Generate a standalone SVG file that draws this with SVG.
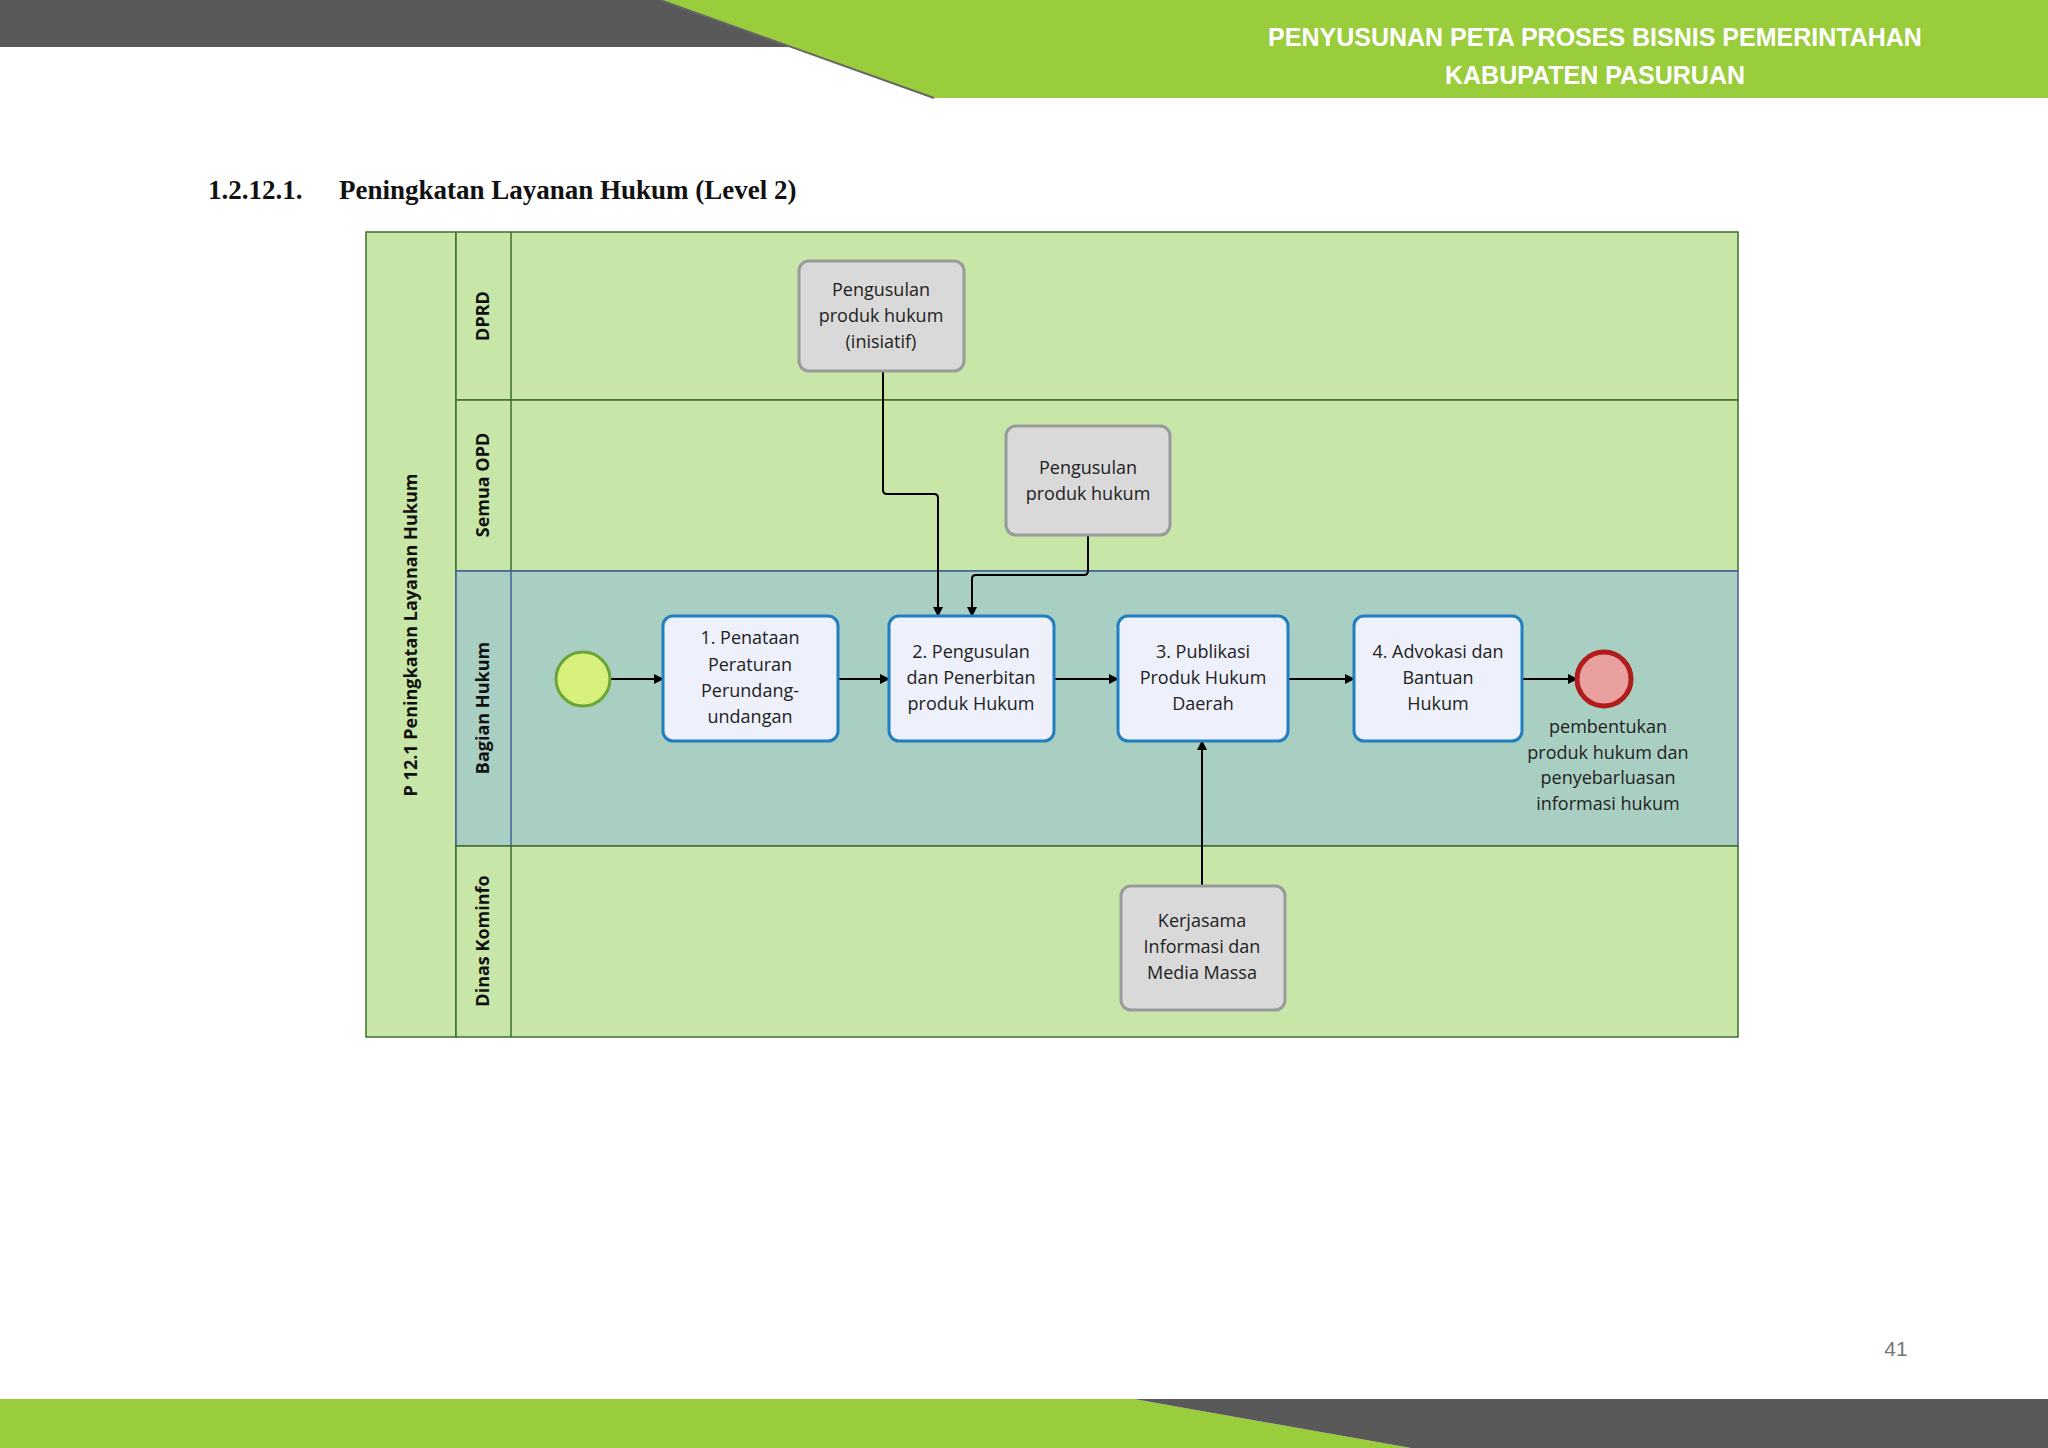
<svg xmlns="http://www.w3.org/2000/svg" width="2048" height="1448" viewBox="0 0 2048 1448">
<defs>
<marker id="ah" markerWidth="10" markerHeight="10" refX="9" refY="5" orient="auto" markerUnits="userSpaceOnUse" viewBox="0 0 10 10"><path d="M0,0 L10,5 L0,10 Z" fill="#000"/></marker>
<style>
.lane{fill:#c8e6a8;stroke:#3f6e2a;stroke-width:1.5}
.hl{fill:#a9cfc2;stroke:#3f5f9a;stroke-width:1.5}
.gt{fill:#d9d9d9;stroke:#9a9a9a;stroke-width:3}
.bt{fill:#eef0fc;stroke:#1f7fc0;stroke-width:3}
.t{font-family:"Open Sans","DejaVu Sans",sans-serif;font-size:18px;fill:#222;text-anchor:middle}
.lb{font-family:"Open Sans","DejaVu Sans",sans-serif;font-size:18px;font-weight:bold;fill:#111;text-anchor:middle}
.c{fill:none;stroke:#000;stroke-width:2;marker-end:url(#ah)}
</style>
</defs>
<rect width="2048" height="1448" fill="#fff"/>
<polygon points="0,0 660,0 790,47 0,47" fill="#595959"/>
<polygon points="660,0 2048,0 2048,98 934,98" fill="#9acd3c"/>
<line x1="660" y1="0" x2="934" y2="98" stroke="#666" stroke-width="2"/>
<text x="1595" y="46" font-family="Liberation Sans,Arial,sans-serif" font-size="25" font-weight="bold" fill="#fff" text-anchor="middle">PENYUSUNAN PETA PROSES BISNIS PEMERINTAHAN</text>
<text x="1595" y="84" font-family="Liberation Sans,Arial,sans-serif" font-size="25" font-weight="bold" fill="#fff" text-anchor="middle">KABUPATEN PASURUAN</text>
<text x="208" y="199" font-family="Liberation Serif,serif" font-size="27" font-weight="bold" fill="#111">1.2.12.1.</text>
<text x="339" y="199" font-family="Liberation Serif,serif" font-size="27" font-weight="bold" fill="#111">Peningkatan Layanan Hukum (Level 2)</text>
<g id="pool">
<rect x="366" y="232" width="90" height="805" class="lane"/>
<text class="lb" transform="translate(417,635) rotate(-90)">P 12.1 Peningkatan Layanan Hukum</text>
</g>
<g id="lane-dprd"><rect x="456" y="232" width="1282" height="168" class="lane"/><line x1="511" y1="232" x2="511" y2="400" stroke="#3f6e2a" stroke-width="1.5"/><text class="lb" transform="translate(489,316) rotate(-90)">DPRD</text></g>
<g id="lane-opd"><rect x="456" y="400" width="1282" height="171" class="lane"/><line x1="511" y1="400" x2="511" y2="571" stroke="#3f6e2a" stroke-width="1.5"/><text class="lb" transform="translate(489,485) rotate(-90)">Semua OPD</text></g>
<g id="lane-hukum"><rect x="456" y="571" width="1282" height="275" class="hl"/><line x1="511" y1="571" x2="511" y2="846" stroke="#3f5f9a" stroke-width="1.5"/><text class="lb" transform="translate(489,708) rotate(-90)">Bagian Hukum</text></g>
<g id="lane-kominfo"><rect x="456" y="846" width="1282" height="191" class="lane"/><line x1="511" y1="846" x2="511" y2="1037" stroke="#3f6e2a" stroke-width="1.5"/><text class="lb" transform="translate(489,941) rotate(-90)">Dinas Kominfo</text></g>
<g id="connectors">
<path class="c" d="M610,679 H663"/>
<path class="c" d="M838,679 H889"/>
<path class="c" d="M1054,679 H1118"/>
<path class="c" d="M1288,679 H1354"/>
<path class="c" d="M1522,679 H1577"/>
<path class="c" d="M883,371 V490 Q883,494 887,494 H934 Q938,494 938,498 V616"/>
<path class="c" d="M1088,535 V571 Q1088,575 1084,575 H976 Q972,575 972,579 V616"/>
<path class="c" d="M1202,886 V741"/>
</g>
<g id="dprd-task"><rect x="799" y="261" width="165" height="110" rx="10" class="gt"/><text class="t" x="881" y="296">Pengusulan</text><text class="t" x="881" y="322">produk hukum</text><text class="t" x="881" y="348">(inisiatif)</text></g>
<g id="opd-task"><rect x="1006" y="426" width="164" height="109" rx="10" class="gt"/><text class="t" x="1088" y="474">Pengusulan</text><text class="t" x="1088" y="500">produk hukum</text></g>
<g id="start"><circle cx="583" cy="679" r="27" fill="#d8f07c" stroke="#6aa636" stroke-width="3"/></g>
<g id="task1"><rect x="663" y="616" width="175" height="125" rx="10" class="bt"/><text class="t" x="750" y="644">1. Penataan</text><text class="t" x="750" y="671">Peraturan</text><text class="t" x="750" y="697">Perundang-</text><text class="t" x="750" y="723">undangan</text></g>
<g id="task2"><rect x="889" y="616" width="165" height="125" rx="10" class="bt"/><text class="t" x="971" y="658">2. Pengusulan</text><text class="t" x="971" y="684">dan Penerbitan</text><text class="t" x="971" y="710">produk Hukum</text></g>
<g id="task3"><rect x="1118" y="616" width="170" height="125" rx="10" class="bt"/><text class="t" x="1203" y="658">3. Publikasi</text><text class="t" x="1203" y="684">Produk Hukum</text><text class="t" x="1203" y="710">Daerah</text></g>
<g id="task4"><rect x="1354" y="616" width="168" height="125" rx="10" class="bt"/><text class="t" x="1438" y="658">4. Advokasi dan</text><text class="t" x="1438" y="684">Bantuan</text><text class="t" x="1438" y="710">Hukum</text></g>
<g id="end"><circle cx="1604" cy="679" r="27" fill="#eba0a0" stroke="#b01c1c" stroke-width="5"/><text class="t" x="1608" y="733">pembentukan</text><text class="t" x="1608" y="759">produk hukum dan</text><text class="t" x="1608" y="784">penyebarluasan</text><text class="t" x="1608" y="810">informasi hukum</text></g>
<g id="kominfo-task"><rect x="1121" y="886" width="164" height="124" rx="10" class="gt"/><text class="t" x="1202" y="927">Kerjasama</text><text class="t" x="1202" y="953">Informasi dan</text><text class="t" x="1202" y="979">Media Massa</text></g>
<text x="1896" y="1356" font-family="Liberation Sans,Arial,sans-serif" font-size="21" fill="#777" text-anchor="middle">41</text>
<polygon points="0,1399 1134,1399 1411,1448 0,1448" fill="#9acd3c"/>
<polygon points="1134,1399 2048,1399 2048,1448 1411,1448" fill="#595959"/>
</svg>
